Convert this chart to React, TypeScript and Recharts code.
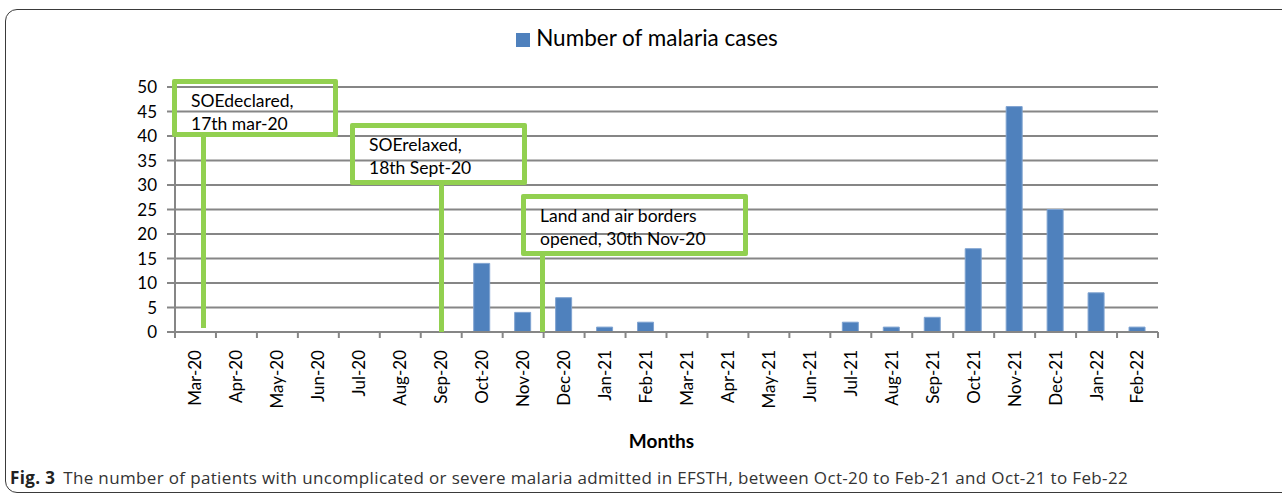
import React from "react";
import { BarChart, Bar, XAxis, YAxis, CartesianGrid, Legend, Label } from "recharts";

// months on the x axis
const months = [
  "Mar-20", "Apr-20", "May-20", "Jun-20", "Jul-20", "Aug-20", "Sep-20", "Oct-20",
  "Nov-20", "Dec-20", "Jan-21", "Feb-21", "Mar-21", "Apr-21", "May-21", "Jun-21",
  "Jul-21", "Aug-21", "Sep-21", "Oct-21", "Nov-21", "Dec-21", "Jan-22", "Feb-22",
];
const malariaCases = [0, 0, 0, 0, 0, 0, 0, 14, 4, 7, 1, 2, 0, 0, 0, 0, 2, 1, 3, 17, 46, 25, 8, 1];
const yTicks = [0, 5, 10, 15, 20, 25, 30, 35, 40, 45, 50];

const data = months.map((m, i) => ({ month: m, cases: malariaCases[i] }));

const W = 1282;
const H = 497;
const margin = { top: 87, right: 124, bottom: 45, left: 115 };
const plotLeft = 175;
const plotRight = W - margin.right;
const band = (plotRight - plotLeft) / months.length;

const GRID = "#868686";
const GREEN = "#92d050";
const FONT = "Lato, 'Open Sans', sans-serif";

const MonthTick = (props: any) => {
  const { x, y, payload, index } = props;
  return (
    <g>
      <line x1={x - band / 2} x2={x - band / 2} y1={y} y2={y + 6} stroke={GRID} strokeWidth={2} />
      {index === months.length - 1 && (
        <line x1={x + band / 2} x2={x + band / 2} y1={y} y2={y + 6} stroke={GRID} strokeWidth={2} />
      )}
      <text
        x={x}
        y={y + 18}
        transform={`rotate(-90 ${x} ${y + 18})`}
        textAnchor="end"
        dy="0.35em"
        fontSize={17}
        fill="#000"
        fontFamily={FONT}
      >
        {payload.value}
      </text>
    </g>
  );
};

// hand drawn callouts from the original figure
const notes = [
  { lines: ["SOEdeclared,", "17th mar-20"], left: 172, top: 79, width: 166, height: 58, stemX: 203, stemTop: 137, stemBottom: 328 },
  { lines: ["SOErelaxed,", "18th Sept-20"], left: 350, top: 123, width: 177, height: 62, stemX: 441, stemTop: 184, stemBottom: 332 },
  { lines: ["Land and air borders", "opened, 30th Nov-20"], left: 521, top: 194, width: 227, height: 62, stemX: 542, stemTop: 254, stemBottom: 332 },
];

export default function App() {
  return (
    <div style={{ position: "absolute", left: 0, top: 0, width: W, height: H, overflow: "hidden", background: "#fff" }}>
      <div
        style={{
          position: "absolute",
          left: 5,
          top: 9,
          width: 1320,
          height: 484,
          border: "1px solid #3a3a3a",
          borderRadius: 12,
          boxSizing: "border-box",
        }}
      />
      <BarChart width={W} height={H} data={data} margin={margin} style={{ position: "absolute", left: 0, top: 0 }}>
        <CartesianGrid vertical={false} stroke={GRID} strokeWidth={2} />
        <XAxis
          dataKey="month"
          interval={0}
          height={120}
          tickSize={0}
          tickMargin={0}
          axisLine={{ stroke: GRID, strokeWidth: 2 }}
          tickLine={false}
          tick={<MonthTick />}
        >
          <Label
            value="Months"
            position="insideBottom"
            offset={4}
            dx={-5}
            style={{ fontFamily: FONT, fontWeight: 700, fontSize: 19, fill: "#000" }}
          />
        </XAxis>
        <YAxis
          width={60}
          domain={[0, 50]}
          ticks={yTicks}
          interval={0}
          tickSize={8}
          tickMargin={10}
          axisLine={{ stroke: GRID, strokeWidth: 2 }}
          tickLine={{ stroke: GRID, strokeWidth: 2 }}
          tick={{ fontSize: 17, fill: "#000", fontFamily: FONT }}
        />
        <Legend
          verticalAlign="middle"
          align="center"
          iconType="square"
          iconSize={14}
          wrapperStyle={{ top: 24, left: 11, width: W, fontFamily: FONT, fontSize: 22.5, color: "#000" }}
          formatter={(v: string) => <span style={{ color: "#000", marginLeft: 2 }}>{v}</span>}
        />
        <Bar
          dataKey="cases"
          name="Number of malaria cases"
          fill="#4f81bd"
          stroke="#7fa3d1"
          strokeWidth={1}
          barSize={16}
          isAnimationActive={false}
        />
      </BarChart>
      {notes.map((n, i) => (
        <React.Fragment key={i}>
          <div
            style={{
              position: "absolute",
              left: n.stemX - 2.5,
              top: n.stemTop,
              width: 5,
              height: n.stemBottom - n.stemTop,
              background: GREEN,
            }}
          />
          <div
            style={{
              position: "absolute",
              left: n.left,
              top: n.top,
              width: n.width,
              height: n.height,
              border: `5px solid ${GREEN}`,
              borderRadius: 2,
              boxSizing: "border-box",
              padding: "5px 0 0 14px",
              fontFamily: FONT,
              fontSize: 17.5,
              lineHeight: "23px",
              color: "#000",
              whiteSpace: "nowrap",
            }}
          >
            {n.lines.map((l, j) => (
              <div key={j}>{l}</div>
            ))}
          </div>
        </React.Fragment>
      ))}
      <div
        style={{
          position: "absolute",
          left: 10,
          top: 466,
          fontFamily: "'Open Sans', sans-serif",
          fontSize: 17,
          letterSpacing: 0.35,
          color: "#333",
          whiteSpace: "nowrap",
        }}
      >
        <b style={{ color: "#222" }}>Fig. 3</b>
        <span style={{ marginLeft: 8 }}>
          The number of patients with uncomplicated or severe malaria admitted in EFSTH, between Oct-20 to Feb-21 and Oct-21 to Feb-22
        </span>
      </div>
    </div>
  );
}
